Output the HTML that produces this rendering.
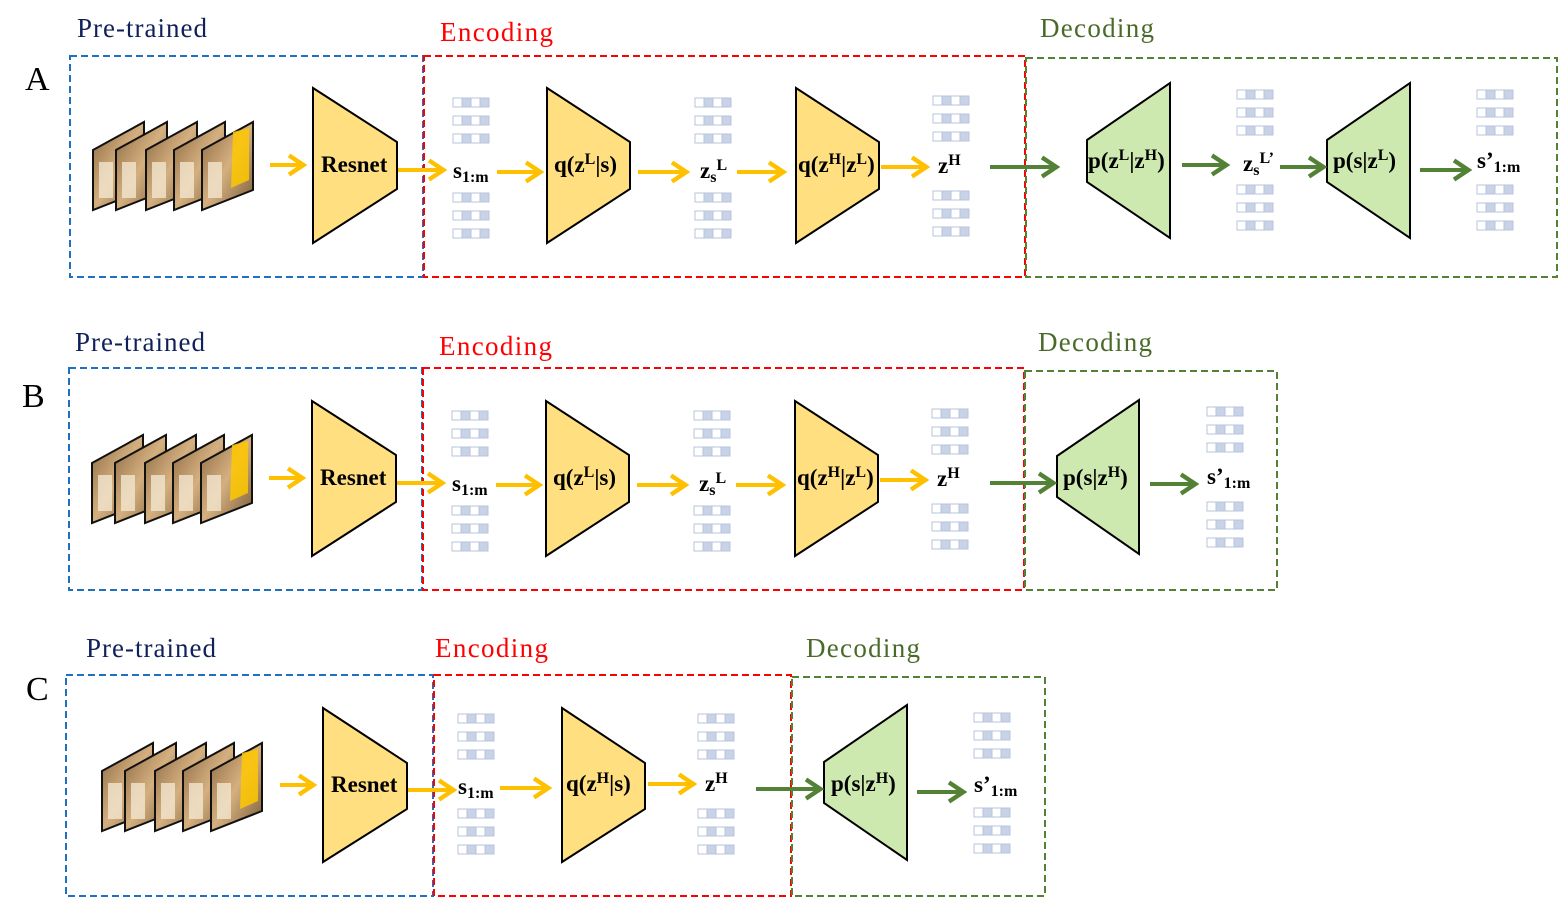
<!DOCTYPE html>
<html><head><meta charset="utf-8"><style>
html,body{margin:0;padding:0;background:#fff;}
svg{display:block;}
text{font-family:"Liberation Serif",serif;}
.lb{font-size:27px;}
.big{font-size:34px;fill:#000;}
.t{font-weight:bold;font-size:23px;fill:#000;}
.sub{font-size:16px;}
</style></head><body>
<svg width="1558" height="899" viewBox="0 0 1558 899" xmlns="http://www.w3.org/2000/svg">
<defs>
<linearGradient id="fr" x1="0" y1="0" x2="1" y2="1">
<stop offset="0" stop-color="#8a6640"/><stop offset="0.5" stop-color="#d4b080"/><stop offset="1" stop-color="#7a5a36"/>
</linearGradient>
<g id="row">
<rect x="0" y="0" width="9" height="9" fill="#fff" stroke="#b8c3dd"/>
<rect x="9" y="0" width="9" height="9" fill="#c9d3e8" stroke="#b8c3dd"/>
<rect x="18" y="0" width="9" height="9" fill="#fff" stroke="#b8c3dd"/>
<rect x="27" y="0" width="9" height="9" fill="#c9d3e8" stroke="#b8c3dd"/>
</g>
<g id="st">
<use href="#row" y="0"/><use href="#row" y="18"/><use href="#row" y="36"/>
<use href="#row" y="95"/><use href="#row" y="113"/><use href="#row" y="131"/>
</g>
<g id="frame">
<polygon points="0,28 51,0 51,68 0,88" fill="url(#fr)" stroke="#111" stroke-width="2"/>
<rect x="6" y="40" width="14" height="36" fill="#f2e6d0" opacity="0.8"/>
</g>
<g id="frames">
<use href="#frame" x="0" y="0"/><use href="#frame" x="23" y="0"/><use href="#frame" x="53" y="0"/><use href="#frame" x="81" y="0"/>
<use href="#frame" x="109" y="0"/>
<polygon points="140,10 156,6 156,58 138,66" fill="#ffc800" opacity="0.85"/>
</g>
<marker id="ya" markerWidth="6" markerHeight="6" refX="4.5" refY="3" orient="auto" markerUnits="strokeWidth"><path d="M1,0.6 L4.6,3 L1,5.4" fill="none" stroke="#ffc000" stroke-width="1.1"/></marker>
<marker id="ga" markerWidth="6" markerHeight="6" refX="4.5" refY="3" orient="auto" markerUnits="strokeWidth"><path d="M1,0.6 L4.6,3 L1,5.4" fill="none" stroke="#538135" stroke-width="1.1"/></marker>
</defs>

<g fill="none" stroke-width="2" stroke-dasharray="7,4">
<rect x="70" y="56" width="353" height="221" stroke="#1f70c0"/>
<rect x="424" y="56" width="601" height="221" stroke="#ff0000"/>
<rect x="1026" y="58" width="531" height="219" stroke="#538135"/>
<rect x="69" y="368" width="353" height="222" stroke="#1f70c0"/>
<rect x="423" y="368" width="601" height="222" stroke="#ff0000"/>
<rect x="1025" y="371" width="252" height="219" stroke="#538135"/>
<rect x="66" y="675" width="367" height="221" stroke="#1f70c0"/>
<rect x="434" y="675" width="357" height="221" stroke="#ff0000"/>
<rect x="792" y="677" width="253" height="219" stroke="#538135"/>
</g>

<text class="lb" x="77" y="37" fill="#10205a" textLength="130">Pre-trained</text>
<text class="lb" x="440" y="41" fill="#ff0000" textLength="113">Encoding</text>
<text class="lb" x="1040" y="37" fill="#4a6a2a" textLength="114">Decoding</text>
<text class="big" x="25" y="90">A</text>
<text class="lb" x="75" y="351" fill="#10205a" textLength="130">Pre-trained</text>
<text class="lb" x="439" y="355" fill="#ff0000" textLength="113">Encoding</text>
<text class="lb" x="1038" y="351" fill="#4a6a2a" textLength="114">Decoding</text>
<text class="big" x="22" y="407">B</text>
<text class="lb" x="86" y="657" fill="#10205a" textLength="130">Pre-trained</text>
<text class="lb" x="435" y="657" fill="#ff0000" textLength="113">Encoding</text>
<text class="lb" x="806" y="657" fill="#4a6a2a" textLength="114">Decoding</text>
<text class="big" x="26" y="700">C</text>

<g id="encA">
<use href="#frames" x="93" y="122"/>
<polygon points="313,88 397,142 397,189 313,243" fill="#ffdf80" stroke="#000" stroke-width="2"/>
<polygon points="547,88 630,142 630,189 547,243" fill="#ffdf80" stroke="#000" stroke-width="2"/>
<polygon points="796,88 879,142 879,189 796,243" fill="#ffdf80" stroke="#000" stroke-width="2"/>
<use href="#st" x="453" y="98"/>
<use href="#st" x="695" y="98"/>
<use href="#st" x="933" y="96"/>
<g stroke="#ffc000" stroke-width="4" marker-end="url(#ya)">
<line x1="270" y1="165" x2="303" y2="165"/>
<line x1="398" y1="170" x2="443" y2="170"/>
<line x1="497" y1="172" x2="540" y2="172"/>
<line x1="638" y1="172" x2="686" y2="172"/>
<line x1="737" y1="172" x2="783" y2="172"/>
<line x1="881" y1="167" x2="926" y2="167"/>
</g>
<text class="t" x="321" y="172">Resnet</text>
<text class="t" x="453" y="178">s<tspan class="sub" dy="4">1:m</tspan></text>
<text class="t" x="554" y="172">q(z<tspan class="sub" dy="-8">L</tspan><tspan dy="8">|s)</tspan></text>
<text class="t" x="700" y="178">z<tspan class="sub" dy="4">s</tspan><tspan class="sub" dy="-12">L</tspan></text>
<text class="t" x="798" y="172">q(z<tspan class="sub" dy="-8">H</tspan><tspan dy="8">|z</tspan><tspan class="sub" dy="-8">L</tspan><tspan dy="8">)</tspan></text>
<text class="t" x="938" y="173">z<tspan class="sub" dy="-8">H</tspan></text>
</g>
<polygon points="1087,140 1170,83 1170,238 1087,182" fill="#cde9b0" stroke="#000" stroke-width="2"/>
<polygon points="1327,140 1410,83 1410,238 1327,182" fill="#cde9b0" stroke="#000" stroke-width="2"/>
<use href="#st" x="1237" y="90"/>
<use href="#st" x="1477" y="90"/>
<g stroke="#538135" stroke-width="4" marker-end="url(#ga)">
<line x1="990" y1="167" x2="1056" y2="167"/>
<line x1="1182" y1="165" x2="1226" y2="165"/>
<line x1="1280" y1="167" x2="1323" y2="167"/>
<line x1="1420" y1="170" x2="1468" y2="170"/>
</g>
<text class="t" x="1088" y="168">p(z<tspan class="sub" dy="-8">L</tspan><tspan dy="8">|z</tspan><tspan class="sub" dy="-8">H</tspan><tspan dy="8">)</tspan></text>
<text class="t" x="1243" y="171">z<tspan class="sub" dy="4">s</tspan><tspan class="sub" dy="-12">L’</tspan></text>
<text class="t" x="1333" y="168">p(s|z<tspan class="sub" dy="-8">L</tspan><tspan dy="8">)</tspan></text>
<text class="t" x="1477" y="168">s’<tspan class="sub" dy="4">1:m</tspan></text>

<use href="#encA" x="-1" y="313"/>
<polygon points="1057,456 1139,400 1139,554 1057,497" fill="#cde9b0" stroke="#000" stroke-width="2"/>
<use href="#st" x="1207" y="407"/>
<g stroke="#538135" stroke-width="4" marker-end="url(#ga)">
<line x1="990" y1="483" x2="1053" y2="483"/>
<line x1="1150" y1="484" x2="1195" y2="484"/>
</g>
<text class="t" x="1063" y="485">p(s|z<tspan class="sub" dy="-8">H</tspan><tspan dy="8">)</tspan></text>
<text class="t" x="1207" y="484">s’<tspan class="sub" dy="4">1:m</tspan></text>

<use href="#frames" x="102" y="743"/>
<polygon points="323,708 407,763 407,809 323,862" fill="#ffdf80" stroke="#000" stroke-width="2"/>
<polygon points="562,708 645,763 645,809 562,862" fill="#ffdf80" stroke="#000" stroke-width="2"/>
<polygon points="824,762 907,705 907,860 824,803" fill="#cde9b0" stroke="#000" stroke-width="2"/>
<use href="#st" x="458" y="714"/>
<use href="#st" x="698" y="714"/>
<use href="#st" x="974" y="713"/>
<g stroke="#ffc000" stroke-width="4" marker-end="url(#ya)">
<line x1="280" y1="785" x2="313" y2="785"/>
<line x1="408" y1="790" x2="453" y2="790"/>
<line x1="500" y1="788" x2="548" y2="788"/>
<line x1="648" y1="784" x2="693" y2="784"/>
</g>
<g stroke="#538135" stroke-width="4" marker-end="url(#ga)">
<line x1="756" y1="789" x2="820" y2="789"/>
<line x1="917" y1="792" x2="963" y2="792"/>
</g>
<text class="t" x="331" y="792">Resnet</text>
<text class="t" x="458" y="794">s<tspan class="sub" dy="4">1:m</tspan></text>
<text class="t" x="566" y="791">q(z<tspan class="sub" dy="-8">H</tspan><tspan dy="8">|s)</tspan></text>
<text class="t" x="705" y="791">z<tspan class="sub" dy="-8">H</tspan></text>
<text class="t" x="831" y="791">p(s|z<tspan class="sub" dy="-8">H</tspan><tspan dy="8">)</tspan></text>
<text class="t" x="974" y="792">s’<tspan class="sub" dy="4">1:m</tspan></text>
</svg>
</body></html>
